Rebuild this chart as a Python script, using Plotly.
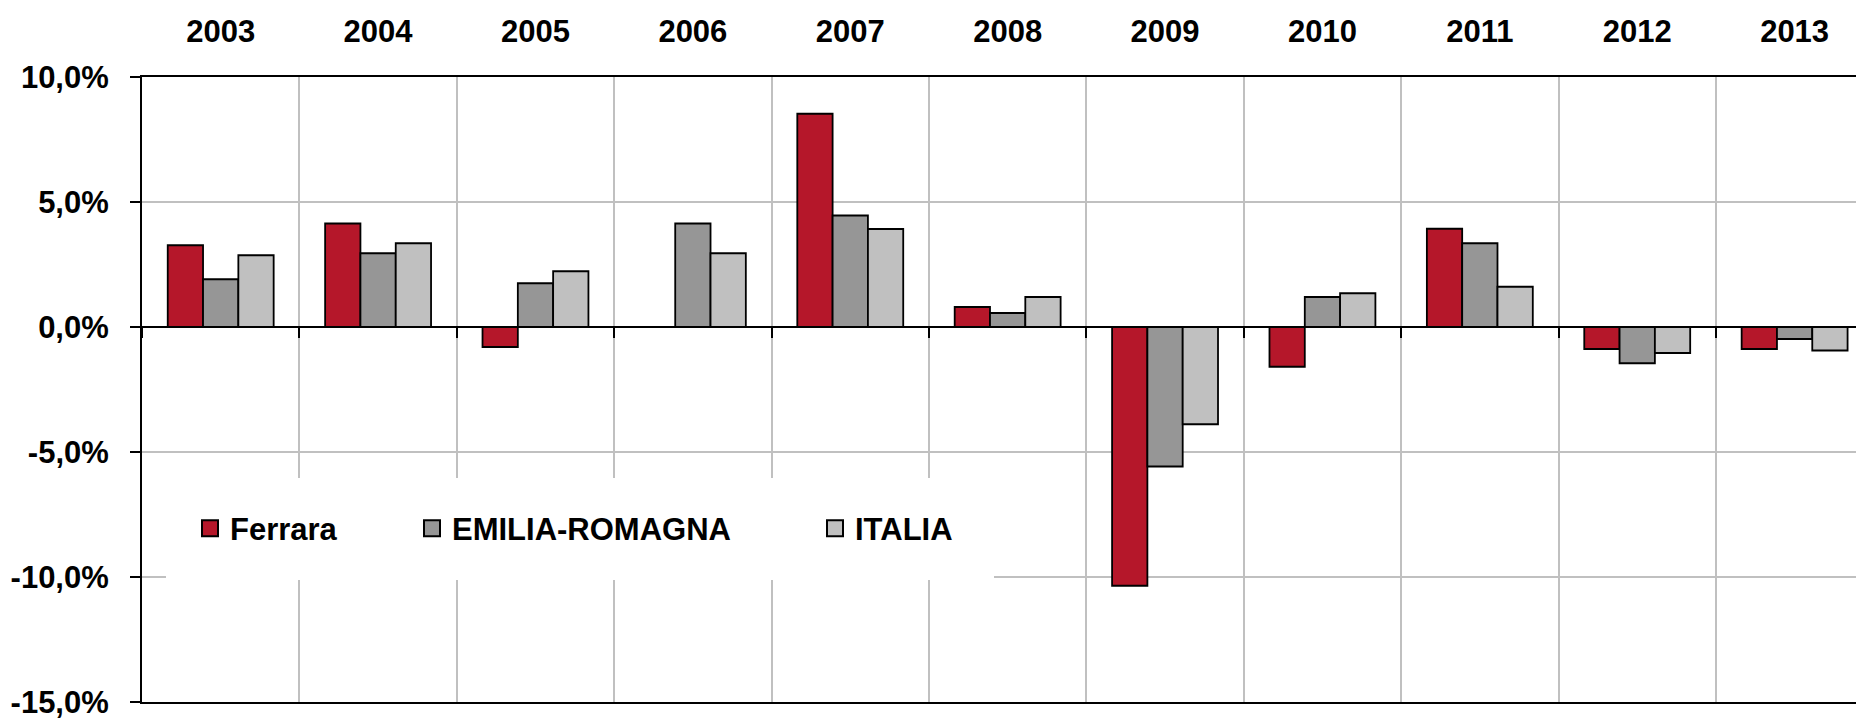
import plotly.graph_objects as go

# Annual growth rates (%) by area
years = ["2003", "2004", "2005", "2006", "2007", "2008",
         "2009", "2010", "2011", "2012", "2013"]
ferrara = [3.27, 4.14, -0.80, None, 8.53, 0.80, -10.35, -1.59, 3.93, -0.88, -0.88]
emilia_romagna = [1.91, 2.95, 1.75, 4.14, 4.46, 0.56, -5.58, 1.20, 3.35, -1.45, -0.48]
italia = [2.87, 3.35, 2.23, 2.95, 3.92, 1.20, -3.89, 1.35, 1.61, -1.04, -0.94]

series_names = ["Ferrara", "EMILIA-ROMAGNA", "ITALIA"]
series_colors = ["#B5172A", "#969696", "#C0C0C0"]
legend_widths = [177, 358, 110]

y_ticks = [-15, -10, -5, 0, 5, 10]
y_tick_labels = ["-15,0%", "-10,0%", "-5,0%", "0,0%", "5,0%", "10,0%"]

FONT = "Liberation Sans, Arial, sans-serif"

fig = go.Figure()

for name, vals, color in zip(series_names, [ferrara, emilia_romagna, italia], series_colors):
    fig.add_trace(go.Bar(
        x=years, y=vals, name=name, showlegend=False,
        marker=dict(color=color, line=dict(color="black", width=1.8)),
        hoverinfo="x+y+name",
    ))

# Legend entries with square swatches
for name, color, lw in zip(series_names, series_colors, legend_widths):
    fig.add_trace(go.Scatter(
        x=[None], y=[None], name=name, mode="markers",
        marker=dict(symbol="square", size=16, color=color,
                    line=dict(color="black", width=2)),
        legendwidth=lw, hoverinfo="skip",
    ))

# Helper trace carrying the tick marks along the zero line
fig.add_trace(go.Scatter(
    x=years, y=[None] * len(years), xaxis="x2", mode="markers",
    showlegend=False, hoverinfo="skip",
))

x_range = [-0.5, 10.39]

fig.update_layout(
    width=1856, height=720,
    margin=dict(l=142, r=0, t=77, b=16, pad=0),
    paper_bgcolor="white", plot_bgcolor="white",
    barmode="group", bargap=0.327, bargroupgap=0,
    font=dict(family=FONT, size=31, color="black", weight="bold"),
    showlegend=True,
    legend=dict(
        orientation="h", x=(190 - 24 - 142) / 1714, xanchor="left",
        y=(704 - 530) / 627, yanchor="middle",
        bgcolor="white", bordercolor="white", borderwidth=24,
        font=dict(family=FONT, size=31, color="black", weight="bold"),
        traceorder="normal",
    ),
    xaxis=dict(
        type="category", categoryorder="array", categoryarray=years,
        range=x_range, side="top", tickson="boundaries",
        ticks="", showgrid=True, gridcolor="#C0C0C0", gridwidth=2,
        showline=True, linecolor="black", linewidth=2, mirror=True,
        ticklabelstandoff=21,
        tickfont=dict(family=FONT, size=31, color="black", weight="bold"),
        fixedrange=True,
    ),
    xaxis2=dict(
        type="category", categoryorder="array", categoryarray=years,
        range=x_range, overlaying="x", anchor="free", position=0.6,
        side="bottom", tickson="boundaries", ticks="outside", ticklen=10,
        tickwidth=2, tickcolor="black", showticklabels=False,
        showgrid=False, showline=False, zeroline=False, fixedrange=True,
    ),
    yaxis=dict(
        range=[-15, 10], tickvals=y_ticks, ticktext=y_tick_labels,
        ticks="outside", ticklen=10, tickwidth=2, tickcolor="black",
        showline=True, linecolor="black", linewidth=2,
        showgrid=True, gridcolor="#C0C0C0", gridwidth=2,
        zeroline=True, zerolinecolor="black", zerolinewidth=2,
        ticklabelstandoff=15, ticklabeloverflow="allow",
        tickfont=dict(family=FONT, size=31, color="black", weight="bold"),
        fixedrange=True,
    ),
)

fig.write_html("out.html")
